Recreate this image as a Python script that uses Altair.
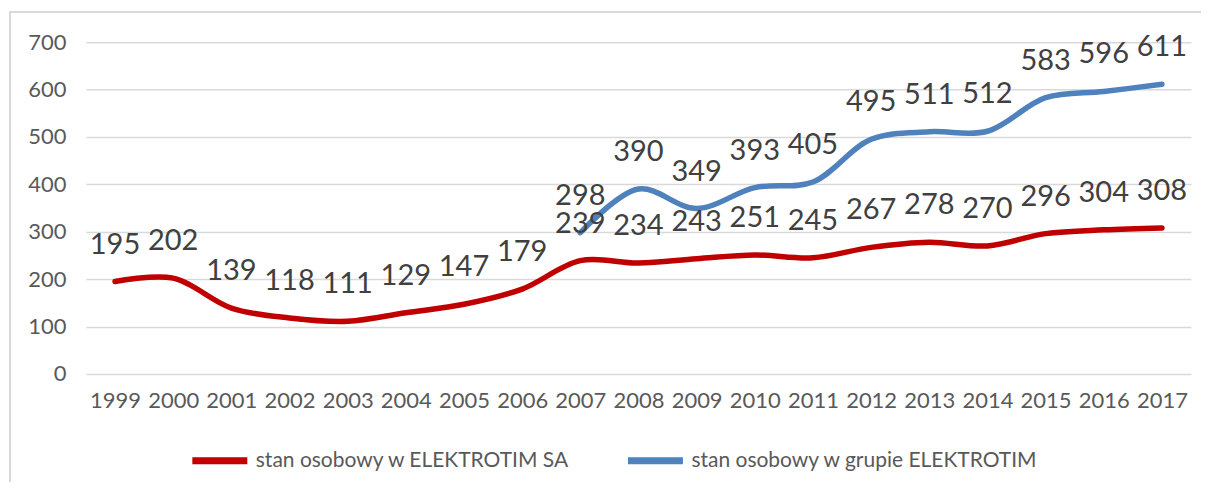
import altair as alt
import pandas as pd

years = [str(y) for y in range(1999, 2018)]
sa_values = [195, 202, 139, 118, 111, 129, 147, 179, 239, 234, 243, 251, 245, 267, 278, 270, 296, 304, 308]
group_years = [str(y) for y in range(2007, 2018)]
group_values = [298, 390, 349, 393, 405, 495, 511, 512, 583, 596, 611]

s1 = "stan osobowy w ELEKTROTIM SA"
s2 = "stan osobowy w grupie ELEKTROTIM"

df = pd.DataFrame(
    {"year": years + group_years,
     "value": sa_values + group_values,
     "series": [s1] * len(years) + [s2] * len(group_years)}
)

FONT = "Lato"
x_enc = alt.X("year:O", sort=years, scale=alt.Scale(domain=years, paddingOuter=0.5),
              axis=alt.Axis(title=None, labelAngle=0, labelFontSize=22, labelColor="#595959",
                            labelFont=FONT, labelPadding=17, ticks=False, domain=False))
y_enc = alt.Y("value:Q", scale=alt.Scale(domain=[0, 700], nice=False),
              axis=alt.Axis(title=None, values=list(range(0, 701, 100)), labelFontSize=22,
                            labelColor="#595959", labelFont=FONT, labelPadding=20, ticks=False,
                            domain=False, grid=True, gridColor="#d9d9d9", gridWidth=1.5))
color_enc = alt.Color("series:N", scale=alt.Scale(domain=[s1, s2], range=["#C00000", "#4F81BD"]),
                      legend=alt.Legend(title=None, orient="none", direction="horizontal",
                                        legendX=103, legendY=388, symbolType="stroke",
                                        symbolSize=3025, symbolStrokeWidth=7, labelFontSize=21,
                                        labelFont=FONT, labelColor="#595959", labelOffset=5,
                                        columnPadding=43, labelLimit=400))

border = alt.Chart(df).mark_rect(fill=None, stroke="#d9d9d9", strokeWidth=1.5).encode(
    x=alt.value(-76), x2=alt.value(1140), y=alt.value(-30), y2=alt.value(460)
)

lines = alt.Chart(df).mark_line(interpolate="catmull-rom", strokeWidth=5.5, strokeCap="round").encode(
    x=x_enc, y=y_enc, color=color_enc, detail="series:N"
)

labels = alt.Chart(df).mark_text(fontSize=29, font=FONT, color="#404040", baseline="middle",
                                 dy=-37).encode(
    x=alt.X("year:O", sort=years), y="value:Q", text="value:Q"
)

chart = alt.layer(border, lines, labels).properties(
    width=1106, height=332,
    autosize=alt.AutoSizeParams(type="none"),
    padding={"left": 78, "top": 34, "right": 10, "bottom": 108},
).configure_view(stroke=None)

chart.save("out.html", embed_options={"renderer": "svg", "actions": False})
